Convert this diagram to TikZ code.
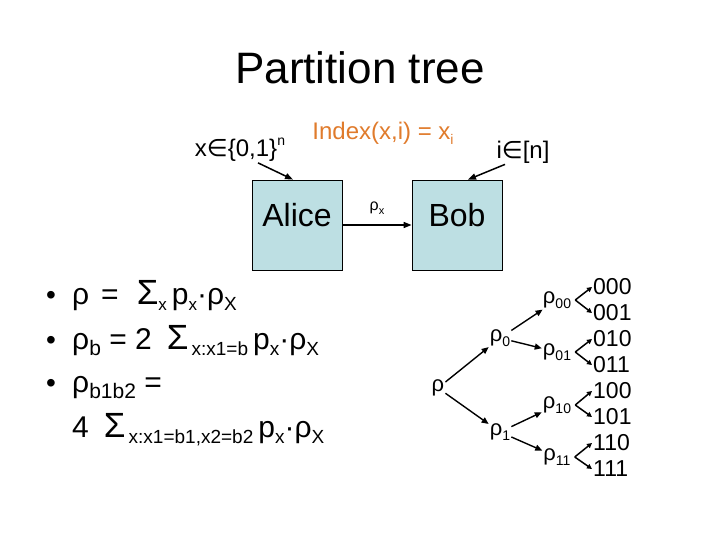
\documentclass[tikz,border=0pt]{standalone}
\usepackage{fontspec}
\setmainfont{Liberation Sans}
\newfontfamily\symfont{DejaVu Sans}
\usetikzlibrary{arrows.meta}
\definecolor{boxfill}{HTML}{BDDFE3}
\definecolor{idxorange}{HTML}{E07B2C}
\newcommand{\fs}[1]{\fontsize{#1}{#1}\selectfont}
\newcommand{\lo}[2][18]{\raisebox{-0.22em}{\fs{#1}#2}}
\newcommand{\hi}[2][16]{\raisebox{0.45em}{\fs{#1}#2}}
\newcommand{\elem}{{\symfont ∈}}
\newcommand{\bigsum}{{\fs{35}Σ}}
\tikzset{
  every node/.append style={inner sep=1pt},
  party/.style={draw=black, line width=0.8pt, fill=boxfill,
                minimum width=90pt, minimum height=90pt},
  partytxt/.style={font=\fs{32}},
  inp/.style={font=\fs{24}},
  arr/.style={-{Triangle[length=8pt,width=6pt]}, line width=1.5pt},
  tarr/.style={-{Triangle[length=7pt,width=6pt]}, line width=1.4pt},
  barr/.style={-{Triangle[length=5pt,width=5pt]}, line width=1.5pt},
  tnode/.style={font=\fs{22}},
  leaf/.style={font=\fs{23}, anchor=west},
  body/.style={font=\fs{30}, anchor=base west, inner sep=0pt},
  bul/.style={font=\fs{28}, anchor=base, inner sep=0pt},
}
\begin{document}
\begin{tikzpicture}[x=1pt,y=-1pt]
  \useasboundingbox (0,0) rectangle (720,540);
  \node[font=\fs{44}] (title) at (360,68) {Partition tree};

  % players
  \node[party] (alice) at (297,225) {};
  \node[party] (bob) at (457,225) {};
  \node[partytxt] at ([yshift=10pt]alice.center) {Alice};
  \node[partytxt] at ([yshift=10pt]bob.center) {Bob};
  \draw[arr] (alice) -- (bob) node[midway, above=9pt, font=\fs{16}] {ρ\lo[11]{x}};

  \node[inp] (xin) at (240,150) {x\elem\{0,1\}\hi[14]{n}};
  \node[inp, text=idxorange] (idx) at (383,133) {Index(x,i) = x\lo[14]{i}};
  \node[inp] (iin) at (523,152) {i\elem[n]};
  \draw[arr] ([xshift=18pt]xin.south) -- ([xshift=-4pt]alice.north);
  \draw[arr] ([xshift=-18pt]iin.south) -- ([xshift=11pt]bob.north);

  % density matrices
  \foreach \yy in {304,349,392} \node[bul] at (51,\yy) {•};
  \node[body] (l1) at (72,304)
    {ρ\hspace{0.4em}=\hspace{0.6em}\bigsum\lo[17]{x}\,p\lo[17]{x}·ρ\lo[19]{X}};
  \node[body] (l2) at (72,349)
    {ρ\lo[21]{b} = 2\hspace{0.5em}\bigsum\lo[19]{\,x:x1=b}\,p\lo[19]{x}·ρ\lo[19]{X}};
  \node[body] (l3) at (72,392) {ρ\lo[21]{b1b2} =};
  \node[body] (l4) at (72,437)
    {4\hspace{0.5em}\bigsum\lo[19]{\,x:x1=b1,x2=b2}\,p\lo[19]{x}·ρ\lo[19]{X}};

  % tree
  \node[tnode] (r) at (438,388) {ρ};
  \node[tnode] (r0) at (500,338) {ρ\lo[14]{0}};
  \node[tnode] (r1) at (500,432) {ρ\lo[14]{1}};
  \node[tnode] (r00) at (557,300) {ρ\lo[14]{00}};
  \node[tnode] (r01) at (557,352) {ρ\lo[14]{01}};
  \node[tnode] (r10) at (557,405) {ρ\lo[14]{10}};
  \node[tnode] (r11) at (557,457) {ρ\lo[14]{11}};
  \foreach \p/\c in {r/r0, r/r1, r0/r00, r0/r01, r1/r10, r1/r11}
    \draw[tarr] (\p) -- (\c);
  \foreach \b [count=\k from 0] in {000,001,010,011,100,101,110,111}
    \node[leaf] (b\b) at (592,{287+26*\k}) {\b};
  \foreach \p/\u/\d in {00/000/001, 01/010/011, 10/100/101, 11/110/111}{
    \draw[barr] ([xshift=3pt]r\p.east) -- (b\u.west);
    \draw[barr] ([xshift=3pt]r\p.east) -- (b\d.west);
  }
\end{tikzpicture}
\end{document}
